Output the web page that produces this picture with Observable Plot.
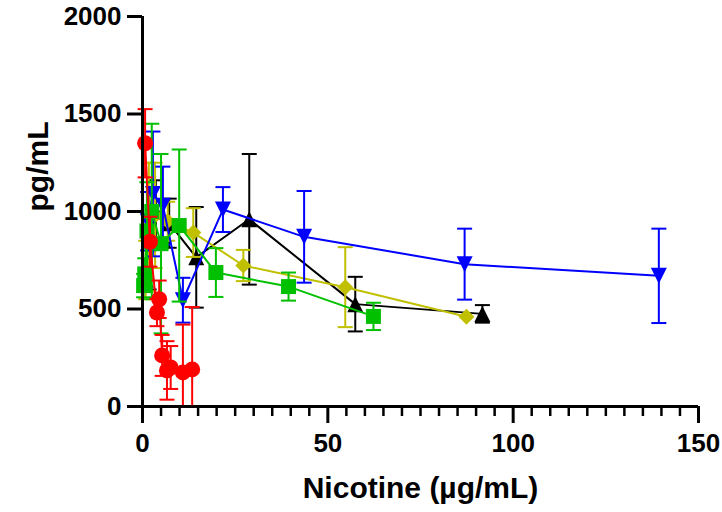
<!DOCTYPE html>
<html><head><meta charset="utf-8">
<script src="https://cdn.jsdelivr.net/npm/d3@7"></script>
<script src="https://cdn.jsdelivr.net/npm/@observablehq/plot@0.6"></script>
<style>body{margin:0;background:#fff} svg{display:block}</style>
</head><body><div id="chart"></div>
<script>
// ---- tick values ----
const xTicks = [0, 50, 100, 150];
const xMinorTicks = [5,10,15,20,25,30,35,40,45,55,60,65,70,75,80,85,90,95,105,110,115,120,125,130,135,140,145];
const yTicks = [0, 500, 1000, 1500, 2000];

// ---- series (x = nicotine µg/mL, y = pg/mL, err = SD) ----
const redX   = [0.7, 2.0, 3.9, 4.5, 5.3, 6.6, 7.6, 10.9, 13.4];
const redY   = [1350, 845, 482, 550, 262, 185, 200, 175, 190];
const redErr = [175, 128, 70, 96, 105, 150, 110, 245, 320];

const greenX   = [0.3, 0.6, 1.2, 2.5, 5.0, 9.9, 19.8, 39.4, 62.3];
const greenY   = [620, 680, 900, 1000, 835, 928, 687, 615, 462];
const greenErr = [60, 80, 250, 450, 460, 390, 125, 72, 70];

const yellowX   = [0.85, 1.7, 3.4, 6.8, 13.7, 27.2, 54.7, 87.4];
const yellowY   = [700, 920, 980, 950, 892, 723, 612, 460];
const yellowErr = [150, 330, 270, 100, 125, 80, 205, 0];

const blackX   = [0.9, 1.8, 3.6, 7.2, 14.5, 28.8, 57.4, 91.7];
const blackY   = [650, 850, 1000, 940, 765, 960, 525, 475];
const blackErr = [60, 250, 160, 126, 258, 335, 140, 45];

const blueX   = [1.4, 2.8, 5.5, 10.9, 21.7, 43.6, 86.9, 139.3];
const blueY   = [950, 1090, 1030, 545, 1010, 870, 730, 670];
const blueErr = [150, 320, 200, 115, 115, 235, 182, 242];

// ---- custom symbols (sqrt(size) = marker width) ----
const SQ = Math.sqrt(Math.PI);
function sym(fn){ return {draw(c, size){ fn(c, Math.sqrt(size)/2); }}; }
const circleSym = sym((c,h)=>{ c.moveTo(h,0); c.arc(0,0,h,0,2*Math.PI); });
const squareSym = sym((c,h)=>{ c.moveTo(-h,-h); c.lineTo(h,-h); c.lineTo(h,h); c.lineTo(-h,h); c.closePath(); });
const diamondSym = sym((c,h)=>{ c.moveTo(0,-h); c.lineTo(h,0); c.lineTo(0,h); c.lineTo(-h,0); c.closePath(); });
const triUpSym = sym((c,h)=>{ c.moveTo(0,-h); c.lineTo(h,h); c.lineTo(-h,h); c.closePath(); });
const triDownSym = sym((c,h)=>{ c.moveTo(0,h); c.lineTo(h,-h); c.lineTo(-h,-h); c.closePath(); });
const capSym = sym((c,h)=>{ c.moveTo(-h,0); c.lineTo(h,0); });

const seriesList = [
  {color:"#000000", symbol:triUpSym,  w:16, x:blackX,  y:blackY,  err:blackErr},
  {color:"#c0c000", symbol:diamondSym, w:16, x:yellowX, y:yellowY, err:yellowErr},
  {color:"#0000ff", symbol:triDownSym, w:16, x:blueX,   y:blueY,   err:blueErr},
  {color:"#00c000", symbol:squareSym, w:15, x:greenX,  y:greenY,  err:greenErr},
  {color:"#ff0000", symbol:circleSym, w:16, x:redX,    y:redY,    err:redErr}
];

const marks = [];
for (const s of seriesList) {
  const rows = s.x.map((x,i)=>({x, y:s.y[i], err:s.err[i], hi:s.y[i]+s.err[i], lo:Math.max(0, s.y[i]-s.err[i]), loOk: s.y[i]-s.err[i] >= 0}));
  const eb = rows.filter(d=>d.err>0);
  marks.push(Plot.line(rows, {x:"x", y:"y", stroke:s.color, strokeWidth:2}));
  marks.push(Plot.ruleX(eb, {x:"x", y1:"lo", y2:"hi", stroke:s.color, strokeWidth:2}));
  marks.push(Plot.dot(eb, {x:"x", y:"hi", symbol:capSym, r:15/SQ, stroke:s.color, strokeWidth:2, fill:"none"}));
  marks.push(Plot.dot(eb.filter(d=>d.loOk), {x:"x", y:"lo", symbol:capSym, r:15/SQ, stroke:s.color, strokeWidth:2, fill:"none"}));
  marks.push(Plot.dot(rows, {x:"x", y:"y", symbol:s.symbol, r:s.w/SQ, fill:s.color, stroke:"none"}));
}

const chart = Plot.plot({
  width: 722, height: 512,
  marginLeft: 142, marginRight: 24, marginTop: 16, marginBottom: 106,
  style: {fontFamily: "'Liberation Sans', Arial, sans-serif", fontWeight: "bold", background: "#fff", color: "#000"},
  x: {domain: [0, 150], label: null},
  y: {domain: [0, 2000], label: null},
  marks: [
    ...marks,
    Plot.ruleX([0], {stroke:"#000", strokeWidth:3}),
    Plot.ruleY([0], {stroke:"#000", strokeWidth:3}),
    Plot.axisX({ticks: xMinorTicks, tickSize: 10, strokeWidth: 2.5, tickFormat: () => "", label: null}),
    Plot.axisX({ticks: xTicks, tickSize: 17, tickPadding: 10, strokeWidth: 3, fontSize: 26, tickFormat: d => String(d), label: null}),
    Plot.axisY({ticks: yTicks, tickSize: 15, tickPadding: 6, strokeWidth: 3, fontSize: 26, tickFormat: d => String(d), label: null}),
    Plot.text(["pg/mL"], {frameAnchor: "left", rotate: -90, dx: -104, fontSize: 30, fontWeight: "bold", fill: "#000"}),
    Plot.text(["Nicotine (µg/mL)"], {frameAnchor: "bottom", dy: 91, fontSize: 30, fontWeight: "bold", fill: "#000"})
  ]
});
document.getElementById("chart").appendChild(chart);
</script>
</body></html>
